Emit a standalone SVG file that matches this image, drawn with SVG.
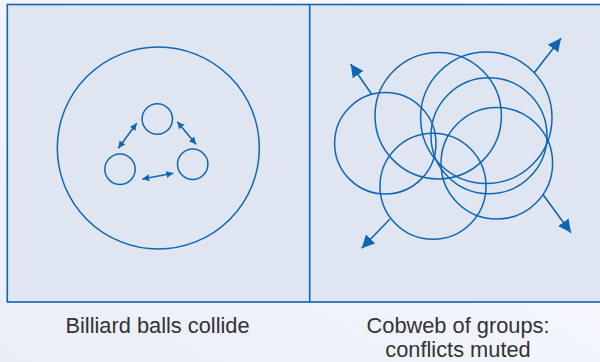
<svg xmlns="http://www.w3.org/2000/svg" width="600" height="362" viewBox="0 0 600 362">
  <defs>
    <linearGradient id="bg" x1="0" y1="1" x2="1" y2="0">
      <stop offset="0" stop-color="#e9eef8"/>
      <stop offset="1" stop-color="#fbfcfe"/>
    </linearGradient>
    <marker id="bigHead" markerUnits="userSpaceOnUse" markerWidth="14" markerHeight="14" refX="13" refY="6.5" orient="auto" viewBox="0 0 14 14">
      <path d="M0,0 L13,6.5 L0,13 Z" fill="#0f66b3"/>
    </marker>
    <marker id="smallHead" markerUnits="userSpaceOnUse" markerWidth="8" markerHeight="8" refX="7" refY="3.5" orient="auto-start-reverse" viewBox="0 0 8 8">
      <path d="M0,0 L7,3.5 L0,7 Z" fill="#0f66b3"/>
    </marker>
  </defs>
  <style>
    .panel { fill: #dfe6f2; stroke: #0f66b3; stroke-width: 1.6; }
    .ring { fill: none; stroke: #0f66b3; stroke-width: 1.5; }
    .arr { stroke: #0f66b3; stroke-width: 1.6; fill: none; }
    .big { marker-end: url(#bigHead); }
    .dbl { marker-start: url(#smallHead); marker-end: url(#smallHead); }
    .label { font-family: "Liberation Sans", Arial, sans-serif; font-size: 21.8px; fill: #333333; text-anchor: middle; }
  </style>
  <rect x="0" y="0" width="600" height="362" fill="url(#bg)"/>

  <g id="panels">
    <rect class="panel" x="7.3" y="4.5" width="602" height="297.5"/>
    <line x1="309.7" y1="4.5" x2="309.7" y2="302" stroke="#0f66b3" stroke-width="1.6"/>
  </g>

  <g id="billiard">
    <g id="outer-circle"><circle class="ring" cx="158.3" cy="148" r="101"/></g>
    <g id="ball-top"><circle class="ring" cx="157.3" cy="119" r="15.2"/></g>
    <g id="ball-left"><circle class="ring" cx="120" cy="169.3" r="15.2"/></g>
    <g id="ball-right"><circle class="ring" cx="192.7" cy="164.3" r="15.2"/></g>
  </g>

  <g id="cobweb">
    <g id="group-1"><circle class="ring" cx="385.3" cy="143.3" r="50.7"/></g>
    <g id="group-2"><circle class="ring" cx="438.2" cy="115.7" r="63.2"/></g>
    <g id="group-3"><circle class="ring" cx="486.3" cy="117.8" r="65.7"/></g>
    <g id="group-4"><circle class="ring" cx="489" cy="135.7" r="58"/></g>
    <g id="group-5"><circle class="ring" cx="496.8" cy="163.3" r="55.8"/></g>
    <g id="group-6"><circle class="ring" cx="433" cy="186.3" r="53"/></g>
  </g>

  <g id="connectors">
    <line class="arr dbl" x1="136.7" y1="123.3" x2="118.3" y2="148.3"/>
    <line class="arr dbl" x1="177.3" y1="121.7" x2="196" y2="144.3"/>
    <line class="arr dbl" x1="142.3" y1="179" x2="173.3" y2="173.3"/>
    <line class="arr big" x1="371.7" y1="94.3" x2="350.7" y2="64"/>
    <line class="arr big" x1="534.3" y1="72.7" x2="561" y2="38.3"/>
    <line class="arr big" x1="390" y1="219" x2="361.7" y2="248.3"/>
    <line class="arr big" x1="543.3" y1="195" x2="571" y2="232.7"/>
  </g>

  <g id="labels">
    <text class="label" x="157.5" y="333">Billiard balls collide</text>
    <text class="label" x="458" y="333.3">Cobweb of groups:</text>
    <text class="label" x="458" y="356.8">conflicts muted</text>
  </g>
</svg>
